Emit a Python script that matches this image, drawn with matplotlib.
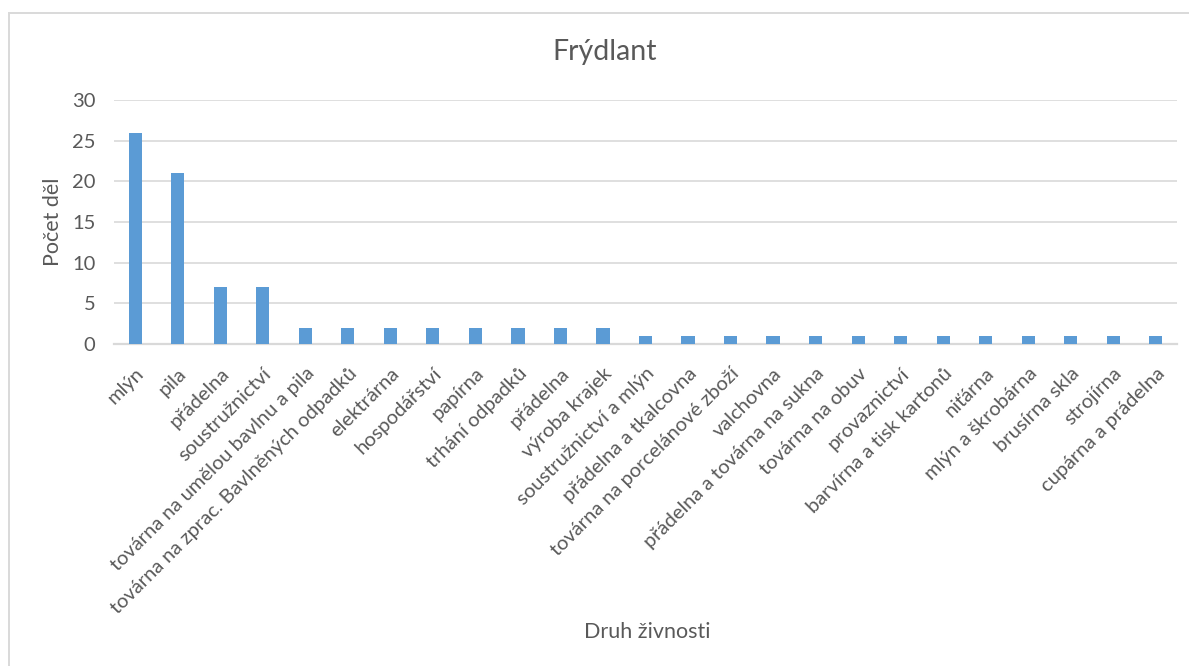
import matplotlib
matplotlib.use("Agg")
import matplotlib.pyplot as plt
from matplotlib.patches import Rectangle

plt.rcParams['font.family'] = ['Lato', 'DejaVu Sans']

categories = [
    "mlýn", "pila", "přádelna", "soustružnictví",
    "továrna na umělou bavlnu a pila",
    "továrna na zprac. Bavlněných odpadků",
    "elektrárna", "hospodářství", "papírna", "trhání odpadků",
    "přádelna", "výroba krajek", "soustružnictví a mlýn",
    "přádelna a tkalcovna", "továrna na porcelánové zboží",
    "valchovna", "přádelna a továrna na sukna", "továrna na obuv",
    "provaznictví", "barvírna a tisk kartonů", "niťárna",
    "mlýn a škrobárna", "brusírna skla", "strojírna",
    "cupárna a prádelna",
]
counts = [26, 21, 7, 7, 2, 2, 2, 2, 2, 2, 2, 2,
          1, 1, 1, 1, 1, 1, 1, 1, 1, 1, 1, 1, 1]
y_ticks = [0, 5, 10, 15, 20, 25, 30]

TEXT = "#595959"
GRID = "#d9d9d9"
BAR = "#5b9bd5"

W, H = 1189, 666
fig = plt.figure(figsize=(W / 100, H / 100), dpi=100)
fig.patch.set_facecolor("white")

# chart frame
fig.add_artist(Rectangle((9 / W, -0.1), 1.2, 1 - 13 / H + 0.1,
                         transform=fig.transFigure, fill=False,
                         edgecolor=GRID, linewidth=1.4))

left, right = 114 / W, 1177 / W
bottom, top = 1 - 344 / H, 1 - 100 / H
ax = fig.add_axes([left, bottom, right - left, top - bottom])

x = list(range(len(categories)))
ax.bar(x, counts, width=0.31, color=BAR, zorder=3)

ax.set_xlim(-0.5, len(categories) - 0.5)
ax.set_ylim(0, 30)
ax.set_yticks(y_ticks)
ax.yaxis.grid(True, color=GRID, linewidth=1.2, zorder=0)
ax.set_axisbelow(True)

for s in ["top", "right", "left"]:
    ax.spines[s].set_visible(False)
ax.spines["bottom"].set_color(GRID)
ax.spines["bottom"].set_linewidth(1.6)

ax.tick_params(axis="both", length=0, colors=TEXT, labelsize=14.5)
ax.tick_params(axis="y", pad=13.5)
ax.set_xticks(x)
ax.set_xticklabels(categories, rotation=45, ha="right", va="top",
                   rotation_mode="anchor", color=TEXT, fontsize=14.5)
ax.tick_params(axis="x", pad=15)

fig.text(605 / W, 1 - 52 / H, "Frýdlant",
         ha="center", va="center", fontsize=20.5, color=TEXT)
fig.text(647 / W, 1 - 632 / H, "Druh živnosti",
         ha="center", va="center", fontsize=15.5, color=TEXT)
fig.text(53 / W, 1 - 222 / H, "Počet děl", ha="center", va="center",
         rotation=90, fontsize=15.5, color=TEXT)

fig.savefig("out.png", dpi=100)
